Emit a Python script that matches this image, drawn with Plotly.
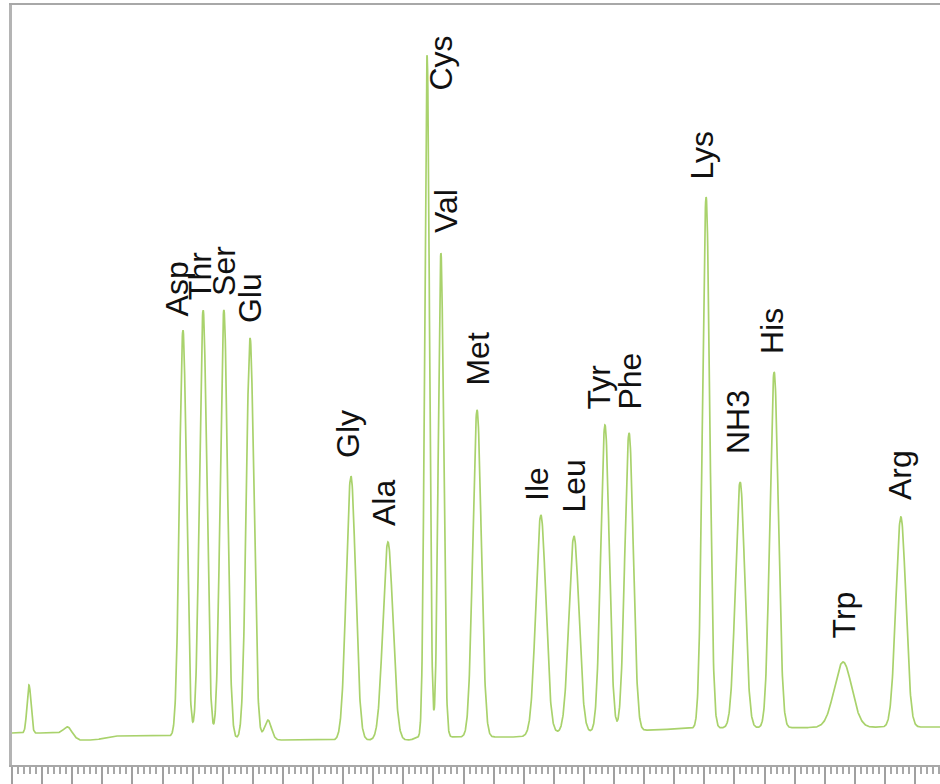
import numpy as np
import plotly.graph_objects as go

# ---- data (time in min, signal in arbitrary units) ----
peak_names = ["", "", "Asp", "Thr", "Ser", "Glu", "", "Gly", "Ala", "Cys", "Val", "Met",
              "Ile", "Leu", "Tyr", "Phe", "Lys", "NH3", "His", "Trp", "Arg"]
peak_times = [0.565, 1.86, 5.68, 6.35, 7.04, 7.91, 8.50, 11.26, 12.49, 13.79, 14.25, 15.45,
              17.57, 18.67, 19.70, 20.50, 23.06, 24.19, 25.32, 27.61, 29.53]
peak_apex = [80, 38, 435, 455, 455, 427, 45, 289, 223, 710, 512, 355,
             250, 229, 340, 332, 568, 283, 393, 103, 248]
peak_sigma = [0.066, 0.13, 0.116, 0.12, 0.12, 0.126, 0.116, 0.155, 0.165, 0.08, 0.088, 0.14,
              0.165, 0.165, 0.14, 0.14, 0.12, 0.155, 0.14, 0.29, 0.165]

baseline_t = [0.0, 1.6, 2.26, 2.76, 3.42, 5.25, 8.9, 13.22, 13.55, 16.88, 17.54, 19.53, 21.2, 22.86, 30.83]
baseline_v = [32, 32, 25, 25, 29, 29, 25, 25, 28, 28, 32, 33, 35, 37, 38]

label_text = ["Asp", "Thr", "Ser", "Glu", "Gly", "Ala", "Cys", "Val", "Met", "Ile", "Leu",
              "Tyr", "Phe", "Lys", "NH3", "His", "Trp", "Arg"]
label_x = [5.48, 6.25, 7.04, 7.91, 11.16, 12.36, 14.22, 14.42, 15.45, 17.44, 18.64,
           19.47, 20.50, 22.89, 24.12, 25.25, 27.64, 29.50]
label_y = [447, 463, 467, 440, 305, 237, 672, 530, 377, 262, 250,
           353, 353, 583, 309, 409, 125, 263]

# ---- build trace from the peak table ----
t = np.linspace(0, 30.83, 4000)
base = np.interp(t, baseline_t, baseline_v)
signal = base.copy()
for rt, apex, sg in zip(peak_times, peak_apex, peak_sigma):
    amp = apex - np.interp(rt, baseline_t, baseline_v)
    signal += amp * np.exp(-0.5 * ((t - rt) / sg) ** 2)

fig = go.Figure()
fig.add_trace(go.Scatter(x=t, y=signal, mode="lines",
                         line=dict(color="#a9d26c", width=1.7),
                         hoverinfo="skip", showlegend=False))

for txt, lx, ly in zip(label_text, label_x, label_y):
    fig.add_annotation(x=lx, y=ly, text=txt, textangle=-90, showarrow=False,
                       xanchor="center", yanchor="bottom",
                       font=dict(family="Liberation Sans, Arial", size=32, color="#111111"))

fig.update_layout(
    width=940, height=784,
    margin=dict(l=12, r=0, t=5, b=19),
    paper_bgcolor="white", plot_bgcolor="white",
    xaxis=dict(range=[0, 30.83], showgrid=False, zeroline=False, showticklabels=False,
               showline=True, linecolor="#a8a8a8", linewidth=2, mirror=True,
               ticks="outside", ticklen=17, tickwidth=1.5, tickcolor="#a0a0a0",
               tick0=0, dtick=1,
               minor=dict(ticks="outside", ticklen=7, tickwidth=1.5, tickcolor="#a8a8a8",
                          dtick=0.2, showgrid=False)),
    yaxis=dict(range=[0, 760], showgrid=False, zeroline=False, showticklabels=False,
               showline=True, linecolor="#b4b4b4", linewidth=2.5, ticks=""),
)

fig.write_html("out.html", config={"displayModeBar": False},
               post_script="document.body.style.margin='0';document.body.style.padding='0';")
